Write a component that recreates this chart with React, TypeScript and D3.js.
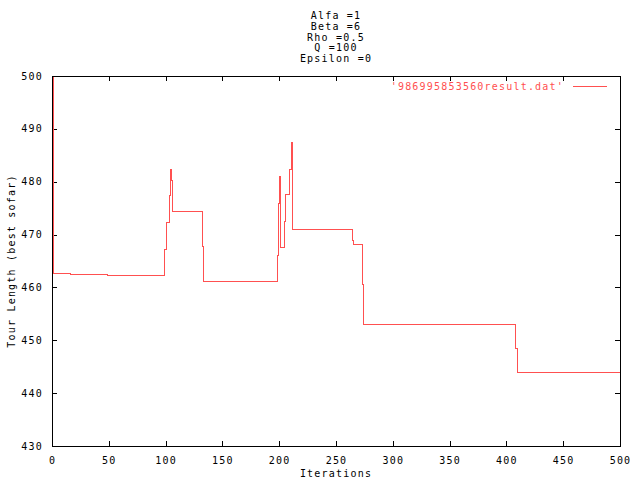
import React from "react";
import * as d3 from "d3";

const titleLines = ["Alfa =1", "Beta =6", "Rho =0.5", "Q =100", "Epsilon =0"];
const seriesName = "'986995853560result.dat'";
const iterations = [0, 1, 16, 48, 99, 100, 103, 104, 105, 106, 132, 133, 198, 199, 200, 201, 204, 205, 209, 210, 211, 264, 265, 273, 274, 408, 409, 500];
const tourLength = [500, 462.7, 462.5, 462.3, 467.3, 472.3, 477.4, 482.4, 480.3, 474.5, 467.9, 461.2, 466.1, 476.0, 481.1, 467.6, 472.6, 477.7, 482.4, 487.5, 471.1, 469.0, 468.2, 460.6, 453.1, 448.5, 444.0, 444.0];
const xTicks = [0, 50, 100, 150, 200, 250, 300, 350, 400, 450, 500];
const yTicks = [430, 440, 450, 460, 470, 480, 490, 500];

const W = 640;
const H = 480;
const left = 52;
const right = 620;
const top = 76;
const bottom = 446;
const RED = "#ff5050";
const FONT = "'DejaVu Sans Mono', monospace";

export default function App() {
  const x = d3.scaleLinear().domain([0, 500]).range([left, right]);
  const y = d3.scaleLinear().domain([430, 500]).range([bottom, top]);
  const pts: [number, number][] = iterations.map((it, i) => [it, tourLength[i]]);
  const line = d3
    .line<[number, number]>()
    .x((d) => Math.round(x(d[0])) + 0.5)
    .y((d) => Math.round(y(d[1])) + 0.5)
    .curve(d3.curveStepAfter);
  const tl = 5;
  const textStyle = { fontFamily: FONT, fontSize: 10, letterSpacing: "1.2px" } as React.CSSProperties;
  const px = (v: number) => Math.round(v) + 0.5;
  return (
    <svg width={W} height={H} style={{ position: "absolute", left: 0, top: 0, background: "#fff" }}>
      <rect x={0} y={0} width={W} height={H} fill="#fff" />
      {titleLines.map((t, i) => (
        <text key={t} x={336} y={19 + i * 10.8} textAnchor="middle" style={textStyle} fill="#000">
          {t}
        </text>
      ))}
      <g shapeRendering="crispEdges" stroke="#000" strokeWidth={1}>
        {yTicks.map((v) => (
          <g key={"y" + v}>
            <line x1={left} x2={left + tl} y1={px(y(v))} y2={px(y(v))} />
            <line x1={right - tl} x2={right} y1={px(y(v))} y2={px(y(v))} />
          </g>
        ))}
        {xTicks.map((v) => (
          <g key={"x" + v}>
            <line x1={px(x(v))} x2={px(x(v))} y1={bottom} y2={bottom - tl} />
            <line x1={px(x(v))} x2={px(x(v))} y1={top} y2={top + tl} />
          </g>
        ))}
      </g>
      {yTicks.map((v) => (
        <text key={"yl" + v} x={43} y={y(v) + 3.5} textAnchor="end" style={textStyle} fill="#000">
          {v}
        </text>
      ))}
      {xTicks.map((v) => (
        <text key={"xl" + v} x={x(v) + 0.5} y={464} textAnchor="middle" style={textStyle} fill="#000">
          {v}
        </text>
      ))}
      <text x={336} y={477} textAnchor="middle" style={textStyle} fill="#000">
        Iterations
      </text>
      <text
        transform={`translate(15,${(top + bottom) / 2}) rotate(-90)`}
        textAnchor="middle"
        style={textStyle}
        fill="#000"
      >
        Tour Length (best sofar)
      </text>
      <text x={564} y={89.5} textAnchor="end" style={textStyle} fill={RED}>
        {seriesName}
      </text>
      <line x1={573} x2={607} y1={86.5} y2={86.5} stroke={RED} strokeWidth={1} shapeRendering="crispEdges" />
      <path d={line(pts) || ""} fill="none" stroke={RED} strokeWidth={1} shapeRendering="crispEdges" />
      <rect
        x={left + 0.5}
        y={top + 0.5}
        width={right - left}
        height={bottom - top}
        fill="none"
        stroke="#000"
        strokeWidth={1}
        shapeRendering="crispEdges"
      />
    </svg>
  );
}
